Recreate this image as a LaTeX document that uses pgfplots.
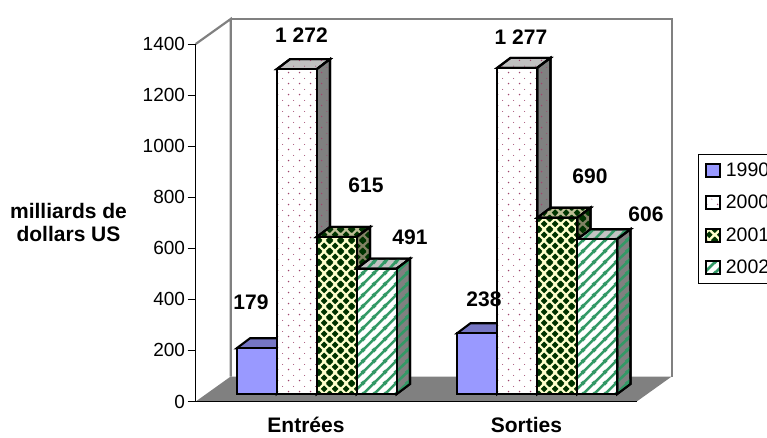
\documentclass[border=0pt]{standalone}
\usepackage{fontspec}
\setmainfont{Liberation Sans}
\usepackage{pgfplots}
\pgfplotsset{compat=1.18}
\usetikzlibrary{patterns}

% Fill patterns: dots, chequered diamonds and wide upward stripes
\pgfdeclarepatternformonly{pinkdots}{\pgfqpoint{0pt}{0pt}}{\pgfqpoint{11pt}{11pt}}{\pgfqpoint{11pt}{11pt}}{%
  \pgfpathcircle{\pgfqpoint{2.7pt}{2.7pt}}{0.85pt}\pgfusepath{fill}%
  \pgfpathcircle{\pgfqpoint{8.2pt}{8.2pt}}{0.55pt}\pgfusepath{fill}%
}
\newcommand{\diamondat}[2]{%
  \pgfpathmoveto{\pgfpoint{#1pt+3.6pt}{#2pt}}%
  \pgfpathlineto{\pgfpoint{#1pt}{#2pt+3.6pt}}%
  \pgfpathlineto{\pgfpoint{#1pt-3.6pt}{#2pt}}%
  \pgfpathlineto{\pgfpoint{#1pt}{#2pt-3.6pt}}%
  \pgfpathclose\pgfusepath{fill}%
}
\pgfdeclarepatternformonly{greendiamonds}{\pgfqpoint{0pt}{0pt}}{\pgfqpoint{11pt}{11pt}}{\pgfqpoint{11pt}{11pt}}{%
  \diamondat{0}{0}\diamondat{11}{0}\diamondat{0}{11}\diamondat{11}{11}\diamondat{5.5}{5.5}%
}
\pgfdeclarepatternformonly{widestripes}{\pgfqpoint{0pt}{0pt}}{\pgfqpoint{11pt}{11pt}}{\pgfqpoint{11pt}{11pt}}{%
  \pgfsetlinewidth{2.7pt}%
  \pgfpathmoveto{\pgfqpoint{-2pt}{-2pt}}\pgfpathlineto{\pgfqpoint{13pt}{13pt}}%
  \pgfpathmoveto{\pgfqpoint{-7.5pt}{3.5pt}}\pgfpathlineto{\pgfqpoint{7.5pt}{18.5pt}}%
  \pgfpathmoveto{\pgfqpoint{3.5pt}{-7.5pt}}\pgfpathlineto{\pgfqpoint{18.5pt}{7.5pt}}%
  \pgfusepath{stroke}%
}

\definecolor{wallgray}{RGB}{128,128,128}
\definecolor{barblue}{RGB}{153,153,255}
\definecolor{dotpink}{RGB}{160,70,110}
\definecolor{darkgreen}{RGB}{0,51,0}
\definecolor{paleyellow}{RGB}{255,255,204}
\definecolor{stripegreen}{RGB}{51,153,102}

\tikzset{
  edge/.style={draw=black,line width=2.1pt,line join=miter},
  f90/.style={edge,fill=barblue},
  t90/.style={edge,fill={rgb,255:red,118;green,118;blue,196}},
  s90/.style={edge,fill={rgb,255:red,90;green,90;blue,150}},
  f00/.style={edge,preaction={fill=white},pattern=pinkdots,pattern color=dotpink},
  t00/.style={edge,preaction={fill={rgb,255:red,192;green,192;blue,192}},pattern=pinkdots,pattern color=dotpink},
  s00/.style={edge,preaction={fill=wallgray},pattern=pinkdots,pattern color=dotpink},
  f01/.style={edge,preaction={fill=paleyellow},pattern=greendiamonds,pattern color=darkgreen},
  t01/.style={edge,preaction={fill={rgb,255:red,190;green,190;blue,150}},pattern=greendiamonds,pattern color=darkgreen},
  s01/.style={edge,preaction={fill={rgb,255:red,130;green,130;blue,100}},pattern=greendiamonds,pattern color=darkgreen},
  f02/.style={edge,preaction={fill=white},pattern=widestripes,pattern color=stripegreen},
  t02/.style={edge,preaction={fill={rgb,255:red,195;green,195;blue,195}},pattern=widestripes,pattern color=stripegreen},
  s02/.style={edge,preaction={fill=wallgray},pattern=widestripes,pattern color=stripegreen},
}

% One box: group, position in group, value, suffix of the face styles
\newcommand{\threedbar}[4]{%
  \pgfmathsetmacro\xa{#1+(41+40*#2)/220.5}%
  \pgfmathsetmacro\xb{\xa+40/220.5}%
  \pgfmathsetmacro\xc{\xb+13.3/220.5}%
  \pgfmathsetmacro\xd{\xa+13.3/220.5}%
  \pgfmathsetmacro\ya{29.4}%
  \pgfmathsetmacro\yb{\ya+39.2}%
  \pgfmathsetmacro\yc{\ya+#3}%
  \pgfmathsetmacro\yd{\yc+39.2}%
  \edef\drawfaces{%
    \noexpand\addplot[t#4,forget plot] coordinates {(\xa,\yc)(\xb,\yc)(\xc,\yd)(\xd,\yd)} --cycle;
    \noexpand\addplot[s#4,forget plot] coordinates {(\xb,\ya)(\xc,\yb)(\xc,\yd)(\xb,\yc)} --cycle;
    \noexpand\addplot[f#4,forget plot] coordinates {(\xa,\ya)(\xb,\ya)(\xb,\yc)(\xa,\yc)} --cycle;
  }%
  \drawfaces
}

\newcommand{\boldval}[3]{\node[font=\bfseries\fontsize{21}{23}\selectfont,inner sep=0pt] at (axis cs:{(#1-195.7)/220.5},{(401.5-#2)/0.25536}) {#3};}

\begin{document}
\begin{tikzpicture}[x=1pt,y=1pt]
\useasboundingbox (0,0) rectangle (767,437);
\begin{axis}[
  at={(195.7pt,35.5pt)},anchor=south west,
  scale only axis,width=441pt,height=357.5pt,
  xmin=0,xmax=2,ymin=0,ymax=1400,
  clip=false,axis on top,
  axis x line*=bottom,axis y line*=left,
  axis line style={draw=black,line width=0.9pt,-},
  /pgf/number format/assume math mode=true,
  /pgf/number format/1000 sep={},
  ytick={0,200,...,1400},
  xtick={0.5,1.5},xticklabels={Entrées,Sorties},
  extra x ticks={0,1,2},extra x tick labels={},
  extra x tick style={major tick length=7pt,tick style={draw=black,line width=0.9pt}},
  xtick style={draw=none},
  ytick style={draw=black,line width=0.9pt},
  major tick length=8pt,
  tick align=outside,
  tick label style={font=\fontsize{19}{21}\selectfont},
  yticklabel style={inner sep=0pt,xshift=-2.5pt},
  xticklabel style={font=\bfseries\fontsize{21}{23}\selectfont,inner sep=0pt,yshift=-7.5pt},
  legend style={at={(1.139,0.692)},anchor=north west,draw=black,line width=0.7pt,
    font=\fontsize{19.5}{21}\selectfont,
    /tikz/every node/.append style={inner sep=0pt,outer sep=0pt},
    /tikz/row sep=17.5pt,/tikz/column sep=5pt,inner xsep=7pt,inner ysep=8pt},
  legend cell align=left,
]
% Back walls and floor
\addplot[draw=none,fill=wallgray,forget plot] coordinates {(0,0)(0.1587,97.9)(2.1587,97.9)(2,0)} --cycle;
\addplot[draw=wallgray,line width=2.2pt,forget plot] coordinates {(0,1400)(0.1587,1497.9)(0.1587,97.9)};
\addplot[draw=wallgray,line width=2.2pt,forget plot] coordinates {(0.1587,1497.9)(2.1587,1497.9)(2.1587,97.9)};

% Entrées
\threedbar{0}{0}{179}{90}
\threedbar{0}{1}{1272}{00}
\threedbar{0}{2}{615}{01}
\threedbar{0}{3}{491}{02}
% Sorties
\threedbar{1}{0}{238}{90}
\threedbar{1}{1}{1277}{00}
\threedbar{1}{2}{690}{01}
\threedbar{1}{3}{606}{02}

\boldval{301.5}{35}{1 272}
\boldval{366}{185}{615}
\boldval{410}{237}{491}
\boldval{251}{302}{179}
\boldval{521}{37}{1 277}
\boldval{590}{176}{690}
\boldval{646}{214}{606}
\boldval{484}{299}{238}

\node[font=\bfseries\fontsize{21}{23}\selectfont,align=center,inner sep=0pt]
  at (axis cs:{(68.5-195.7)/220.5},{(401.5-222)/0.25536}) {milliards de\\dollars US};

\addlegendimage{legend image code/.code={\draw[f90,line width=2pt] (0pt,-6.5pt) rectangle (13.5pt,6.5pt);}}
\addlegendentry{1990}
\addlegendimage{legend image code/.code={\draw[f00,line width=2pt] (0pt,-6.5pt) rectangle (13.5pt,6.5pt);}}
\addlegendentry{2000}
\addlegendimage{legend image code/.code={\draw[f01,line width=2pt] (0pt,-6.5pt) rectangle (13.5pt,6.5pt);}}
\addlegendentry{2001}
\addlegendimage{legend image code/.code={\draw[f02,line width=2pt] (0pt,-6.5pt) rectangle (13.5pt,6.5pt);}}
\addlegendentry{2002}
\end{axis}
\end{tikzpicture}
\end{document}
